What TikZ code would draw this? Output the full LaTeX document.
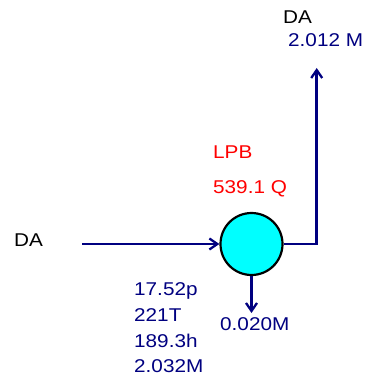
\documentclass[tikz,border=0pt]{standalone}
\usepackage{fontspec}
\setmainfont{Liberation Sans}[FakeStretch=1.12]
\usetikzlibrary{arrows.meta}
\definecolor{flowblue}{RGB}{0,0,128}
\definecolor{unitcyan}{RGB}{0,255,255}
\tikzset{
  stream/.style={draw=flowblue, line width=2.5pt, line join=miter},
  flowtip/.style={-{Straight Barb[length=8pt,width=11pt,line width=2.3pt]}},
  lbl/.style={anchor=base west, inner sep=0pt, font=\fontsize{18.5}{20}\selectfont},
  vallbl/.style={lbl, text=flowblue},
  unitlbl/.style={lbl, text=red},
  vessel/.style={circle, draw=black, line width=2.2pt, fill=unitcyan, minimum size=62pt, inner sep=0pt}
}
\begin{document}
\begin{tikzpicture}[x=1pt,y=-1pt]
  \useasboundingbox (0,0) rectangle (367,382);

  % flash vessel
  \node[vessel] (lpb) at (251.5,244) {};

  % stream ends
  \coordinate (feedstart) at (82,244);
  \coordinate (bend) at (316.7,244);
  \coordinate (vaptop) at (316.7,68);
  \coordinate (liqend) at (251.5,313);

  % streams
  \draw[stream, flowtip] (feedstart) -- (lpb.west);
  \draw[stream, flowtip] (lpb.east) -- (bend) -- (vaptop);
  \draw[stream, flowtip] (lpb.south) -- (liqend);

  % labels
  \node[lbl] (feedname) at (14,246.7) {DA};
  \node[lbl] (vapname) at (283,24) {DA};
  \node[vallbl] (vapflow) at (288,46.7) {2.012 M};
  \node[unitlbl] (unitname) at (213,158.3) {LPB};
  \node[unitlbl] (unitduty) at (213,193.3) {539.1 Q};
  \node[vallbl] (feedp) at (134,295.7) {17.52p};
  \node[vallbl] (feedt) at (134,321) {221T};
  \node[vallbl] (feedh) at (134,347) {189.3h};
  \node[vallbl] (feedm) at (134,372.5) {2.032M};
  \node[vallbl] (liqflow) at (220,330) {0.020M};
\end{tikzpicture}
\end{document}
